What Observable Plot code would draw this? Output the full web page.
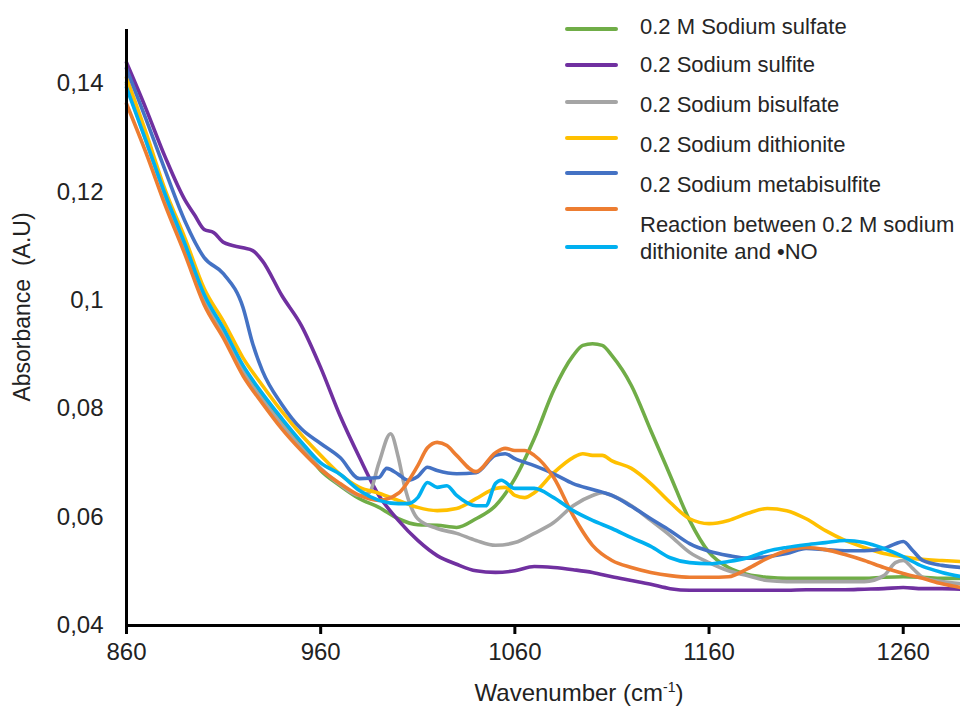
<!DOCTYPE html>
<html><head><meta charset="utf-8">
<script src="https://cdn.jsdelivr.net/npm/d3@7"></script>
<script src="https://cdn.jsdelivr.net/npm/@observablehq/plot@0.6"></script>
<style>
body{margin:0;background:#fff;}
#wrap{position:relative;width:960px;height:713px;font-family:"Liberation Sans",Arial,sans-serif;color:#222;}
#wrap svg{position:absolute;left:0;top:0;}
.sw{position:absolute;left:565px;width:53px;height:4px;border-radius:2px;}
.lt{position:absolute;left:640px;font-size:22px;line-height:22px;white-space:nowrap;color:#262626;}
#xt{position:absolute;left:579px;top:693px;transform:translate(-50%,-50%);font-size:24px;white-space:nowrap;}
#yt{position:absolute;left:22px;top:307px;transform:translate(-50%,-50%) rotate(-90deg);font-size:23px;white-space:nowrap;}
sup{font-size:14px;vertical-align:9px;line-height:0;}
</style></head>
<body><div id="wrap"></div>
<script>
const xTicks = [860, 960, 1060, 1160, 1260];
const yTicks = [0.04, 0.06, 0.08, 0.1, 0.12, 0.14];
const seriesColors = ["#70AD47","#7030A0","#A5A5A5","#FFC000","#4472C4","#ED7D31","#00B0F0"];
const legendLabels = ["0.2 M Sodium sulfate","0.2 Sodium sulfite","0.2 Sodium bisulfate","0.2 Sodium dithionite","0.2 Sodium metabisulfite","Reaction between 0.2 M sodium","dithionite and •NO"];

const sulfate = [[860,.1402],[870,.1301],[880,.1199],[890,.1099],[900,.1005],[910,.0942],[920,.0874],[930,.0823],[940,.0776],[950,.0734],[960,.0686],[970,.0658],[980,.0634],[990,.0618],[1000,.0597],[1010,.0586],[1020,.0585],[1030,.0581],[1040,.0597],[1050,.0621],[1060,.0671],[1070,.0745],[1080,.0834],[1090,.0898],[1095,.0917],[1100,.0920],[1105,.0917],[1110,.0898],[1120,.0843],[1130,.0760],[1140,.0677],[1150,.0594],[1160,.0535],[1170,.0507],[1180,.0494],[1190,.0489],[1200,.0487],[1210,.0487],[1220,.0487],[1230,.0487],[1240,.0487],[1250,.0489],[1260,.0490],[1270,.0489],[1280,.0487],[1290,.0487]];
const sulfite = [[860,.1439],[870,.1354],[880,.1264],[890,.1186],[895,.1158],[900,.1131],[905,.1125],[910,.1107],[920,.1097],[925,.1092],[930,.1073],[940,.1009],[950,.0954],[960,.0876],[970,.0787],[980,.0710],[990,.0640],[1000,.0594],[1010,.0557],[1020,.0529],[1030,.0513],[1040,.0501],[1050,.0498],[1060,.0501],[1070,.0509],[1080,.0507],[1090,.0503],[1100,.0498],[1110,.0490],[1120,.0483],[1130,.0476],[1140,.0468],[1150,.0465],[1160,.0465],[1170,.0465],[1180,.0465],[1190,.0465],[1200,.0465],[1210,.0466],[1220,.0466],[1230,.0466],[1240,.0467],[1250,.0468],[1260,.0470],[1270,.0468],[1280,.0468],[1290,.0467]];
const bisulfate = [[860,.1398],[870,.1295],[880,.1192],[890,.1094],[900,.1000],[910,.0937],[920,.0869],[930,.0817],[940,.0771],[950,.0728],[960,.0690],[970,.0660],[980,.0640],[985,.0645],[990,.0700],[996,.0754],[1000,.0710],[1003,.0660],[1007,.0615],[1010,.0597],[1020,.0579],[1030,.0570],[1040,.0557],[1050,.0548],[1060,.0553],[1070,.0570],[1080,.0590],[1090,.0621],[1100,.0640],[1105,.0645],[1110,.0640],[1120,.0621],[1130,.0594],[1140,.0566],[1150,.0535],[1160,.0516],[1170,.0501],[1180,.0492],[1190,.0483],[1200,.0481],[1210,.0481],[1220,.0481],[1230,.0481],[1240,.0481],[1250,.0492],[1256,.0516],[1260,.0520],[1265,.0505],[1270,.0489],[1280,.0481],[1290,.0477]];
const dithionite = [[860,.1411],[870,.1310],[880,.1203],[890,.1116],[900,.1022],[910,.0961],[920,.0894],[930,.0843],[940,.0795],[950,.0752],[960,.0714],[970,.0679],[980,.0655],[990,.0644],[1000,.0631],[1010,.0618],[1020,.0612],[1030,.0616],[1040,.0634],[1050,.0653],[1055,.0655],[1060,.0640],[1065,.0636],[1070,.0645],[1080,.0682],[1090,.0710],[1095,.0717],[1100,.0714],[1105,.0714],[1110,.0704],[1120,.0690],[1130,.0662],[1140,.0627],[1150,.0597],[1160,.0588],[1170,.0594],[1180,.0607],[1190,.0616],[1200,.0612],[1210,.0597],[1220,.0575],[1230,.0557],[1240,.0544],[1250,.0533],[1260,.0527],[1270,.0522],[1280,.0520],[1290,.0518]];
const metabisulfite = [[860,.1428],[870,.1335],[880,.1239],[890,.1147],[900,.1079],[910,.1049],[920,.0987],[925,.0920],[930,.0870],[940,.0808],[950,.0763],[960,.0736],[970,.0710],[980,.0671],[990,.0673],[994,.0690],[1000,.0679],[1005,.0668],[1010,.0675],[1015,.0692],[1020,.0686],[1030,.0680],[1040,.0682],[1050,.0714],[1055,.0717],[1060,.0708],[1070,.0695],[1080,.0680],[1090,.0662],[1100,.0651],[1110,.0640],[1120,.0620],[1130,.0597],[1140,.0575],[1150,.0551],[1160,.0537],[1170,.0529],[1180,.0524],[1190,.0527],[1200,.0533],[1210,.0542],[1220,.0540],[1230,.0538],[1240,.0538],[1250,.0542],[1256,.0551],[1260,.0555],[1265,.0538],[1270,.0520],[1280,.0511],[1290,.0507]];
const reaction = [[860,.1363],[870,.1273],[880,.1175],[890,.1086],[900,.0992],[910,.0930],[920,.0861],[930,.0810],[940,.0763],[950,.0723],[960,.0688],[970,.0662],[980,.0640],[990,.0631],[1000,.0644],[1010,.0695],[1015,.0728],[1020,.0738],[1025,.0732],[1030,.0714],[1040,.0684],[1050,.0719],[1055,.0727],[1060,.0723],[1065,.0723],[1070,.0714],[1080,.0673],[1090,.0603],[1100,.0548],[1110,.0520],[1120,.0507],[1130,.0498],[1140,.0492],[1150,.0489],[1160,.0489],[1170,.0490],[1180,.0505],[1190,.0524],[1200,.0538],[1210,.0544],[1220,.0540],[1230,.0531],[1240,.0520],[1250,.0507],[1260,.0496],[1270,.0487],[1280,.0477],[1290,.0470]];
const noDithionite = [[860,.1393],[870,.1295],[880,.1195],[890,.1105],[900,.1011],[910,.0948],[920,.0880],[930,.0828],[940,.0782],[950,.0739],[960,.0700],[970,.0679],[980,.0649],[990,.0631],[1000,.0625],[1005,.0625],[1010,.0636],[1015,.0664],[1020,.0655],[1025,.0658],[1030,.0640],[1040,.0621],[1045,.0621],[1050,.0662],[1053,.0668],[1060,.0653],[1070,.0653],[1080,.0636],[1090,.0612],[1100,.0594],[1110,.0579],[1120,.0562],[1130,.0546],[1140,.0525],[1150,.0516],[1160,.0514],[1170,.0518],[1180,.0525],[1190,.0537],[1200,.0544],[1210,.0549],[1220,.0553],[1230,.0557],[1240,.0553],[1250,.0542],[1260,.0527],[1270,.0509],[1280,.0498],[1290,.0490]];

const allSeries = [sulfate, sulfite, bisulfate, dithionite, metabisulfite, reaction, noDithionite];

const chart = Plot.plot({
  width: 960, height: 713,
  marginLeft: 126, marginRight: 0, marginTop: 29, marginBottom: 88,
  x: {domain: [860, 1289.5]},
  y: {domain: [0.04, 0.15]},
  style: {fontFamily: "'Liberation Sans', Arial, sans-serif", fontSize: "24px", color: "#222", background: "transparent", overflow: "visible"},
  marks: [
    ...allSeries.map((s, i) => Plot.line(s, {x: d => d[0], y: d => d[1], stroke: seriesColors[i], strokeWidth: 3.6, strokeLinejoin: "round", strokeLinecap: "round", curve: "monotone-x"})),
    Plot.axisX({ticks: xTicks, tickSize: 9, tickPadding: 8, strokeWidth: 3, stroke: "#000", label: null, tickFormat: d => String(d), fontSize: 24}),
    Plot.axisY({ticks: yTicks, tickSize: 0, tickPadding: 23, label: null, tickFormat: d => d3.format(".2~f")(d).replace(".", ","), fontSize: 24}),
    Plot.ruleX([860], {stroke: "#000", strokeWidth: 3}),
    Plot.ruleY([0.04], {stroke: "#000", strokeWidth: 3})
  ]
});
const wrap = document.getElementById("wrap");
wrap.appendChild(chart);

const swY = [29, 65, 102, 138, 173, 209, 247];
const txY = [27, 65, 105, 145, 185, 225, 252];
legendLabels.forEach((t, i) => {
  const s = document.createElement("div");
  s.className = "sw"; s.style.top = (swY[i] - 2) + "px"; s.style.background = seriesColors[i];
  wrap.appendChild(s);
  const l = document.createElement("div");
  l.className = "lt"; l.style.top = (txY[i] - 11) + "px"; l.textContent = t;
  wrap.appendChild(l);
});
const xt = document.createElement("div"); xt.id = "xt"; xt.innerHTML = "Wavenumber (cm<sup>-1</sup>)"; wrap.appendChild(xt);
const yt = document.createElement("div"); yt.id = "yt"; yt.textContent = "Absorbance  (A.U)"; yt.style.whiteSpace = "pre"; wrap.appendChild(yt);
</script>
</body></html>
